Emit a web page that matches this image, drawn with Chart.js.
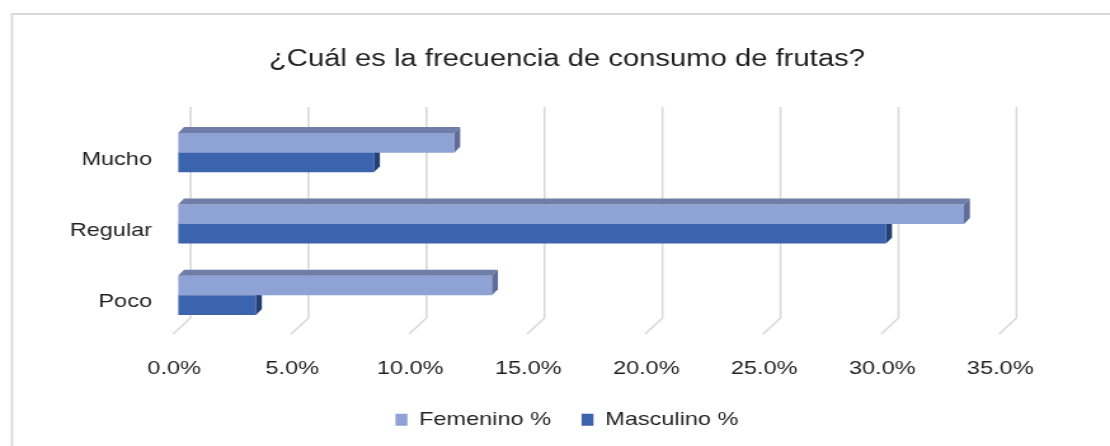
<!DOCTYPE html>
<html lang="es">
  <head>
    <meta charset="UTF-8" />
    <title>Frecuencia de consumo de frutas</title>
    <script src="https://cdn.jsdelivr.net/npm/chart.js"></script>
    <style>
      body {
        margin: 0;
        background: #fff;
      }
      /* the source picture is stretched sideways, so draw narrow and stretch */
      .canvas {
        width: 874px;
        height: 446px;
        transform: scaleX(1.27);
        transform-origin: 0 0;
      }
    </style>
  </head>
  <body>
    <div class="canvas">
      <canvas id="myChart"></canvas>
    </div>
    <script>
      const title = "¿Cuál es la frecuencia de consumo de frutas?";
      const categories = ["Mucho", "Regular", "Poco"];
      const seriesNames = ["Femenino %", "Masculino %"];
      const femenino = [11.7, 33.3, 13.3];
      const masculino = [8.3, 30.0, 3.3];
      const xMax = 35;
      const xStep = 5;

      const font = "'Liberation Sans', Arial, sans-serif";
      const textColor = "#1f1f1f";
      const gridColor = "#d9d9d9";
      const depthX = 4.7;
      const depthY = 6;

      // front, top, side
      const faces = [
        ["#8fa2d5", "#6f7ea6", "#5f6d97"],
        ["#3b63ae", "#2e4f8c", "#243f73"],
      ];

      const frame = {
        id: "frame",
        beforeDraw(chart) {
          const ctx = chart.ctx;
          ctx.save();
          ctx.strokeStyle = gridColor;
          ctx.lineWidth = 1.8;
          ctx.beginPath();
          ctx.moveTo(chart.width, 14);
          ctx.lineTo(9.4, 14);
          ctx.lineTo(9.4, chart.height);
          ctx.stroke();
          ctx.restore();
        },
      };

      // wall + floor gridlines of the 3d look
      const grid3d = {
        id: "grid3d",
        beforeDatasetsDraw(chart) {
          const ctx = chart.ctx;
          const area = chart.chartArea;
          const x = chart.scales.x;
          ctx.save();
          ctx.strokeStyle = gridColor;
          ctx.lineWidth = 1.6;
          x.ticks.forEach((t) => {
            let px = x.getPixelForValue(t.value);
            ctx.beginPath();
            ctx.moveTo(px + 9.8, area.top - 10);
            ctx.lineTo(px + 9.8, area.bottom - 13);
            ctx.lineTo(px - 3.9, area.bottom + 3);
            ctx.stroke();
          });
          ctx.restore();
        },
      };

      const bars3d = {
        id: "bars3d",
        afterDatasetDraw(chart, args) {
          const ctx = chart.ctx;
          const c = faces[args.index];
          args.meta.data.forEach((bar) => {
            let p = bar.getProps(["x", "y", "base", "height"], true);
            let top = p.y - p.height / 2;
            let bottom = p.y + p.height / 2;
            ctx.save();
            ctx.fillStyle = c[1];
            ctx.beginPath();
            ctx.moveTo(p.base, top);
            ctx.lineTo(p.base + depthX, top - depthY);
            ctx.lineTo(p.x + depthX, top - depthY);
            ctx.lineTo(p.x, top);
            ctx.closePath();
            ctx.fill();
            ctx.fillStyle = c[2];
            ctx.beginPath();
            ctx.moveTo(p.x, top);
            ctx.lineTo(p.x + depthX, top - depthY);
            ctx.lineTo(p.x + depthX, bottom - depthY);
            ctx.lineTo(p.x, bottom);
            ctx.closePath();
            ctx.fill();
            ctx.restore();
          });
        },
      };

      new Chart(document.getElementById("myChart"), {
        type: "bar",
        data: {
          labels: categories,
          datasets: [
            {
              label: seriesNames[0],
              data: femenino,
              backgroundColor: faces[0][0],
              xAxisID: "x",
              yAxisID: "y",
            },
            {
              label: seriesNames[1],
              data: masculino,
              backgroundColor: faces[1][0],
              xAxisID: "x",
              yAxisID: "y",
            },
          ],
        },
        options: {
          indexAxis: "y",
          responsive: true,
          maintainAspectRatio: false,
          animation: false,
          categoryPercentage: 0.55,
          barPercentage: 1,
          layout: {
            padding: { left: 18.8, right: 0, top: 0, bottom: 7 },
          },
          plugins: {
            tooltip: { enabled: false },
            title: {
              display: true,
              text: title,
              color: textColor,
              font: { family: font, size: 23, weight: "normal" },
              padding: { top: 46.2, bottom: 43.2 },
            },
            legend: {
              position: "bottom",
              labels: {
                color: textColor,
                font: { family: font, size: 18.5 },
                boxWidth: 9.4,
                boxHeight: 12,
                padding: 24,
              },
            },
          },
          scales: {
            x: {
              min: 0,
              max: xMax,
              grid: { display: false, drawTicks: false },
              border: { display: false },
              ticks: {
                stepSize: xStep,
                color: textColor,
                font: { family: font, size: 18.5 },
                padding: 26.9,
                labelOffset: -3,
                callback: (v) => v.toFixed(1) + "%",
              },
              afterFit: (s) => {
                s.height = 55.5;
              },
            },
            y: {
              grid: { display: false, drawTicks: false },
              border: { display: false },
              ticks: {
                color: textColor,
                font: { family: font, size: 18.5 },
                padding: 20.5,
                labelOffset: 7,
              },
              afterFit: (s) => {
                s.width = 121.4;
              },
            },
            // empty right-hand axis, only keeps room on the right
            yRight: {
              type: "linear",
              axis: "y",
              position: "right",
              grid: { display: false, drawTicks: false },
              border: { display: false },
              ticks: { display: false },
              afterFit: (s) => {
                s.width = 83.4;
              },
            },
          },
        },
        plugins: [frame, grid3d, bars3d],
      });
    </script>
  </body>
</html>
